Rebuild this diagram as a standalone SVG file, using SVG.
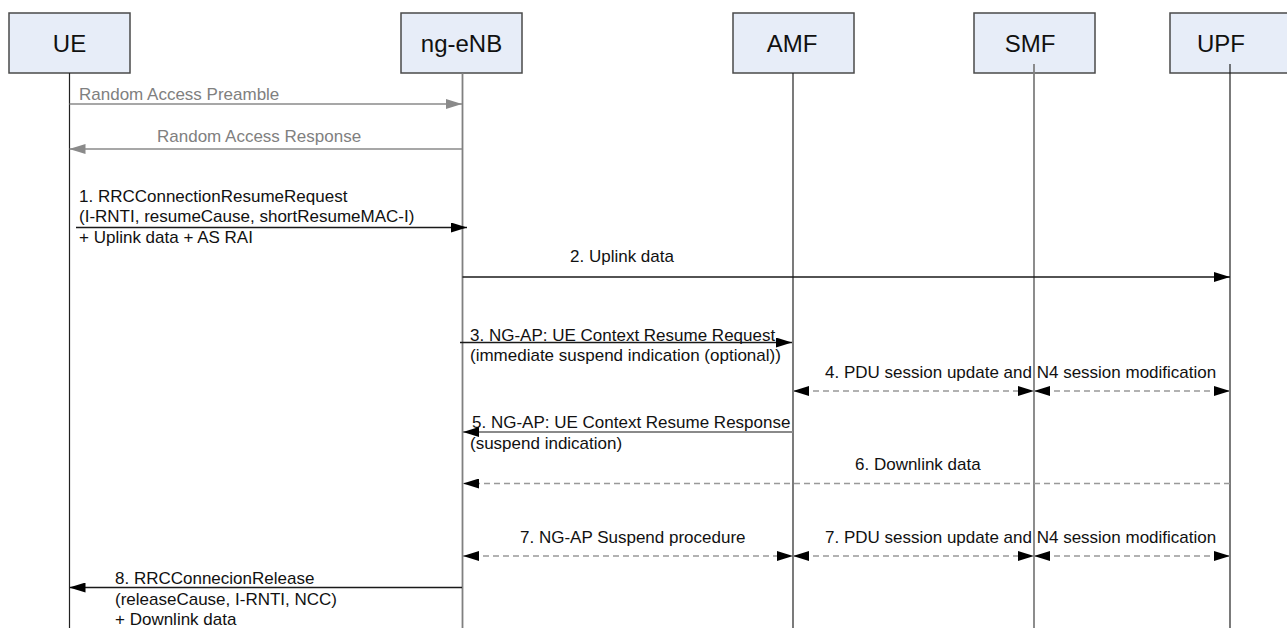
<svg xmlns="http://www.w3.org/2000/svg" width="1287" height="628" viewBox="0 0 1287 628">
<style>
  text { font-family: "Liberation Sans", Arial, sans-serif; }
  .box { fill: #E7EDF8; stroke: #4a4a4a; stroke-width: 1.5; }
  .hdr { font-size: 24px; fill: #111; text-anchor: middle; }
  .lbl { font-size: 17px; fill: #111; }
  .glbl { font-size: 17px; fill: #808080; }
  .life-d { stroke: #222; stroke-width: 1.2; }
  .life-g { stroke: #808080; stroke-width: 1.8; }
  .msg { stroke: #1a1a1a; stroke-width: 1.5; fill: none; marker-end: url(#ah); }
  .msg-g { stroke: #8a8a8a; stroke-width: 1.5; fill: none; marker-end: url(#ahg); }
  .msg-m { stroke: #8a8a8a; stroke-width: 2; fill: none; marker-end: url(#ah); }
  .dash { stroke: #999; stroke-width: 1.5; stroke-dasharray: 6 4; fill: none; marker-end: url(#ah); }
  .dash2 { stroke: #999; stroke-width: 1.5; stroke-dasharray: 6 4; fill: none; marker-start: url(#ah); marker-end: url(#ah); }
</style>
<defs>
  <marker id="ah" markerUnits="userSpaceOnUse" viewBox="0 0 16 10" markerWidth="16" markerHeight="10" refX="16" refY="5" orient="auto-start-reverse">
    <path d="M0,0 L16,5 L0,10 z" fill="#000" stroke="none"/>
  </marker>
  <marker id="ahg" markerUnits="userSpaceOnUse" viewBox="0 0 16 10" markerWidth="16" markerHeight="10" refX="16" refY="5" orient="auto-start-reverse">
    <path d="M0,0 L16,5 L0,10 z" fill="#8a8a8a" stroke="none"/>
  </marker>
</defs>
<rect width="1287" height="628" fill="#fff"/>

<g id="node-UE">
  <rect class="box" x="9" y="13" width="121" height="60"/>
  <text class="hdr" x="69.5" y="52">UE</text>
  <line class="life-d" x1="69.5" y1="73" x2="69.5" y2="628"/>
</g>
<g id="node-ngeNB">
  <rect class="box" x="401" y="13" width="121" height="60"/>
  <text class="hdr" x="461.5" y="52">ng-eNB</text>
  <line class="life-g" x1="462.5" y1="73" x2="462.5" y2="628"/>
</g>
<g id="node-AMF">
  <rect class="box" x="733" y="13" width="121" height="60"/>
  <text class="hdr" x="792" y="52">AMF</text>
  <line class="life-d" x1="793" y1="73" x2="793" y2="628"/>
</g>
<g id="node-SMF">
  <rect class="box" x="974" y="13" width="121" height="60"/>
  <text class="hdr" x="1030" y="52">SMF</text>
  <line class="life-g" x1="1034" y1="64" x2="1034" y2="628"/>
</g>
<g id="node-UPF">
  <rect class="box" x="1170" y="13" width="121" height="60"/>
  <text class="hdr" x="1221" y="52">UPF</text>
  <line class="life-d" x1="1230" y1="64" x2="1230" y2="628"/>
</g>

<g id="connectors">
  <text class="glbl" x="79" y="100">Random Access Preamble</text>
  <line class="msg-g" x1="69.5" y1="104" x2="462" y2="104"/>

  <text class="glbl" x="157" y="142">Random Access Response</text>
  <line class="msg-g" x1="462" y1="149" x2="69.5" y2="149"/>

  <text class="lbl" x="79" y="201.5">1. RRCConnectionResumeRequest</text>
  <text class="lbl" x="79" y="222">(I-RNTI, resumeCause, shortResumeMAC-I)</text>
  <line class="msg" x1="76" y1="227.5" x2="467" y2="227.5"/>
  <text class="lbl" x="79" y="242.5">+ Uplink data + AS RAI</text>

  <text class="lbl" x="570" y="262">2. Uplink data</text>
  <line class="msg" x1="462.5" y1="277" x2="1230" y2="277"/>

  <text class="lbl" x="470" y="340.5">3. NG-AP: UE Context Resume Request</text>
  <line class="msg" x1="460" y1="342.5" x2="792" y2="342.5"/>
  <text class="lbl" x="470" y="361">(immediate suspend indication (optional))</text>

  <text class="lbl" x="825" y="378">4. PDU session update and N4 session modification</text>
  <line class="dash2" x1="793" y1="391" x2="1034" y2="391"/>
  <line class="dash2" x1="1034" y1="391" x2="1230" y2="391"/>

  <text class="lbl" x="472" y="428">5. NG-AP: UE Context Resume Response</text>
  <line class="msg-m" x1="793" y1="432" x2="463" y2="432"/>
  <text class="lbl" x="470" y="448.5">(suspend indication)</text>

  <text class="lbl" x="855" y="470">6. Downlink data</text>
  <line class="dash" x1="1230" y1="483.5" x2="463" y2="483.5"/>

  <text class="lbl" x="520" y="543">7. NG-AP Suspend procedure</text>
  <line class="dash2" x1="463" y1="556" x2="793" y2="556"/>

  <text class="lbl" x="825" y="542.5">7. PDU session update and N4 session modification</text>
  <line class="dash2" x1="793" y1="556" x2="1034" y2="556"/>
  <line class="dash2" x1="1034" y1="556" x2="1230" y2="556"/>

  <text class="lbl" x="115" y="584">8. RRCConnecionRelease</text>
  <line class="msg" x1="462" y1="587.5" x2="69.5" y2="587.5"/>
  <text class="lbl" x="115" y="604.5">(releaseCause, I-RNTI, NCC)</text>
  <text class="lbl" x="115" y="625">+ Downlink data</text>
</g>
</svg>
